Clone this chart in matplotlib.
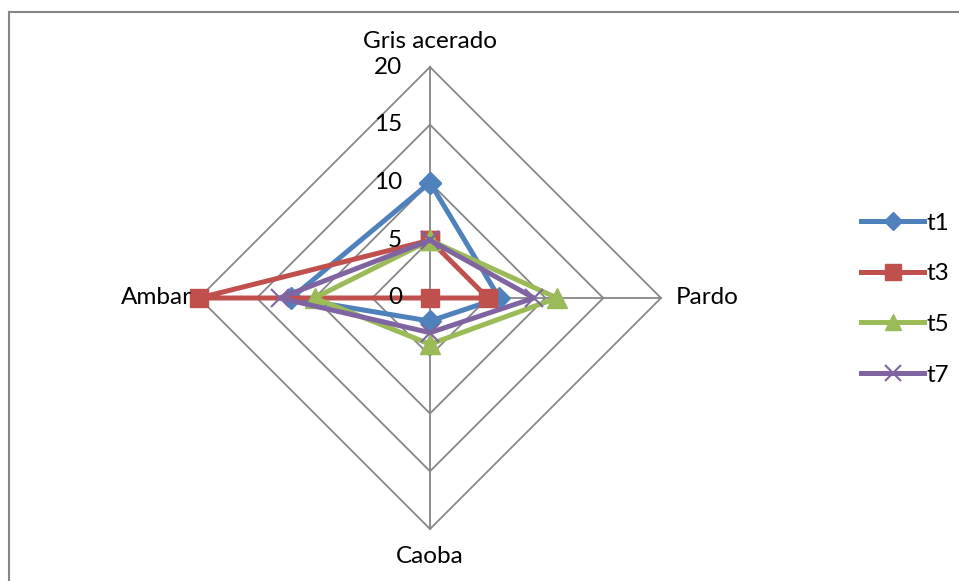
import numpy as np
import matplotlib.pyplot as plt
from matplotlib.lines import Line2D

# radar chart data (axes go clockwise from top)
categories = ['Gris acerado', 'Pardo', 'Caoba', 'Ambar']
series_names = ['t1', 't3', 't5', 't7']
t1 = [10, 6, 2, 12]
t3 = [5, 5, 0, 20]
t5 = [5, 11, 4, 10]
t7 = [5, 9, 3, 13]
ticks = [0, 5, 10, 15, 20]

colors = ['#4F81BD', '#C0504D', '#9BBB59', '#8064A2']
markers = ['D', 's', '^', 'x']
msizes = [11, 13, 14, 13]
grid_col = '#868686'

plt.rcParams['font.family'] = ['Lato', 'DejaVu Sans']
fs = 17.5

W, H = 959, 581
fig = plt.figure(figsize=(W / 100, H / 100), dpi=100)

# chart centre (430, 298) px, radius 231 px for value 20
cx, cy, R = 430, 298, 231
ax = fig.add_axes([(cx - R) / W, (H - cy - R) / H, 2 * R / W, 2 * R / H])
ax.set_xlim(-20, 20)
ax.set_ylim(-20, 20)
ax.axis('off')

angles = np.pi / 2 - np.arange(len(categories)) * 2 * np.pi / len(categories)
ca, sa = np.cos(angles), np.sin(angles)

# grid polygons and spokes
for t in ticks[1:]:
    ax.plot(np.append(t * ca, t * ca[0]), np.append(t * sa, t * sa[0]),
            color=grid_col, lw=1.3, zorder=1, clip_on=False)
for i in range(len(categories)):
    ax.plot([0, 20 * ca[i]], [0, 20 * sa[i]], color=grid_col, lw=1.3, zorder=1, clip_on=False)

# series
handles = []
for name, vals, c, m, ms in zip(series_names, [t1, t3, t5, t7], colors, markers, msizes):
    v = np.array(vals, dtype=float)
    xs = np.append(v * ca, v[0] * ca[0])
    ys = np.append(v * sa, v[0] * sa[0])
    mew = 1.5 if m == 'x' else 1
    ax.plot(xs, ys, color=c, lw=3.6, marker=m, ms=ms, mec=c, mfc=c, mew=mew,
            zorder=3, clip_on=False)
    handles.append(Line2D([], [], color=c, lw=3.6, marker=m, ms=ms * 0.85, mec=c, mfc=c,
                          mew=mew, label=name))

# tick labels along the top spoke
for t in ticks:
    ax.text(-2.4, t, str(t), ha='right', va='center', fontsize=fs, color='black')

# category labels
ax.text(0, 20 + 2.2, categories[0], ha='center', va='center', fontsize=fs)
ax.text(21.3, 0, categories[1], ha='left', va='center', fontsize=fs)
ax.text(0, -22.4, categories[2], ha='center', va='center', fontsize=fs)
ax.text(-20.6, 0, categories[3], ha='right', va='center', fontsize=fs)

fig.legend(handles=handles, loc='center left', bbox_to_anchor=(861 / W, 1 - 299 / H),
           frameon=False, fontsize=fs, handlelength=2.6, handletextpad=0.1,
           labelspacing=1.22, borderaxespad=0, borderpad=0)

# outer chart frame (only left and top edges fall inside the picture)
fig.add_artist(Line2D([8.5 / W, 8.5 / W], [0, 1 - 11.5 / H], color=grid_col, lw=1.5,
                      transform=fig.transFigure))
fig.add_artist(Line2D([8.5 / W, 1], [1 - 11.5 / H, 1 - 11.5 / H], color=grid_col, lw=1.5,
                      transform=fig.transFigure))

fig.savefig('out.png', dpi=100)
